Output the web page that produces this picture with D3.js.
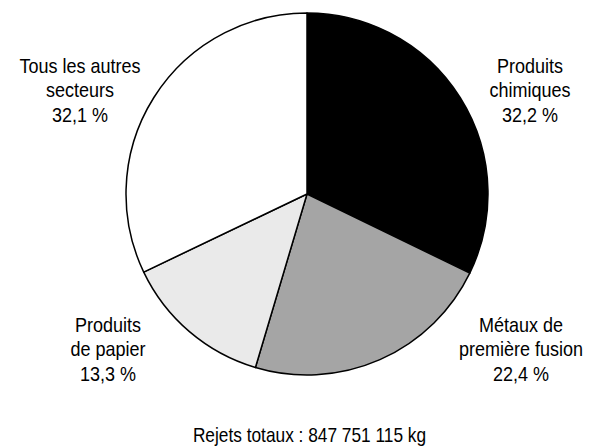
<!DOCTYPE html>
<html>
<head>
<meta charset="utf-8">
<script src="https://cdn.jsdelivr.net/npm/d3@7"></script>
<style>
html,body{margin:0;padding:0;background:#fff;}
svg{display:block;}
text{font-family:"Liberation Sans",Arial,sans-serif;fill:#000;}
</style>
</head>
<body>
<svg id="chart" width="589" height="447"></svg>
<script>
const categories = ["Produits chimiques", "Métaux de première fusion", "Produits de papier", "Tous les autres secteurs"];
const values = [32.2, 22.4, 13.3, 32.1];
const labelLines = [
  ["Produits", "chimiques", "32,2 %"],
  ["Métaux de", "première fusion", "22,4 %"],
  ["Produits", "de papier", "13,3 %"],
  ["Tous les autres", "secteurs", "32,1 %"]
];
const colors = ["#000000", "#a5a5a5", "#eaeaea", "#ffffff"];
const footnote = "Rejets totaux : 847 751 115 kg";

const svg = d3.select("#chart");
const cx = 307, cy = 194, r = 181;

const pie = d3.pie().sort(null).value(d => d)(values);
const arc = d3.arc().innerRadius(0).outerRadius(r);

const g = svg.append("g").attr("transform", `translate(${cx},${cy})`);
g.selectAll("path").data(pie).join("path")
  .attr("d", arc)
  .attr("fill", (d, i) => colors[i])
  .attr("stroke", "#000")
  .attr("stroke-width", 1.5)
  .attr("stroke-linejoin", "round");

const labelPos = [[530, 73], [521, 332], [108, 332], [80, 73]];
const lineH = 24.5;
const fontSize = 20;
const squeeze = 0.9;

labelLines.forEach((lines, i) => {
  const t = svg.append("g")
    .attr("transform", `translate(${labelPos[i][0]},0) scale(${squeeze},1)`)
    .append("text")
    .attr("text-anchor", "middle")
    .attr("font-size", fontSize);
  lines.forEach((ln, j) => {
    t.append("tspan")
      .attr("x", 0)
      .attr("y", labelPos[i][1] + j * lineH)
      .text(ln);
  });
});

svg.append("g")
  .attr("transform", `translate(309.5,0) scale(0.865,1)`)
  .append("text")
  .attr("x", 0)
  .attr("y", 442)
  .attr("text-anchor", "middle")
  .attr("font-size", fontSize)
  .text(footnote);
</script>
</body>
</html>
